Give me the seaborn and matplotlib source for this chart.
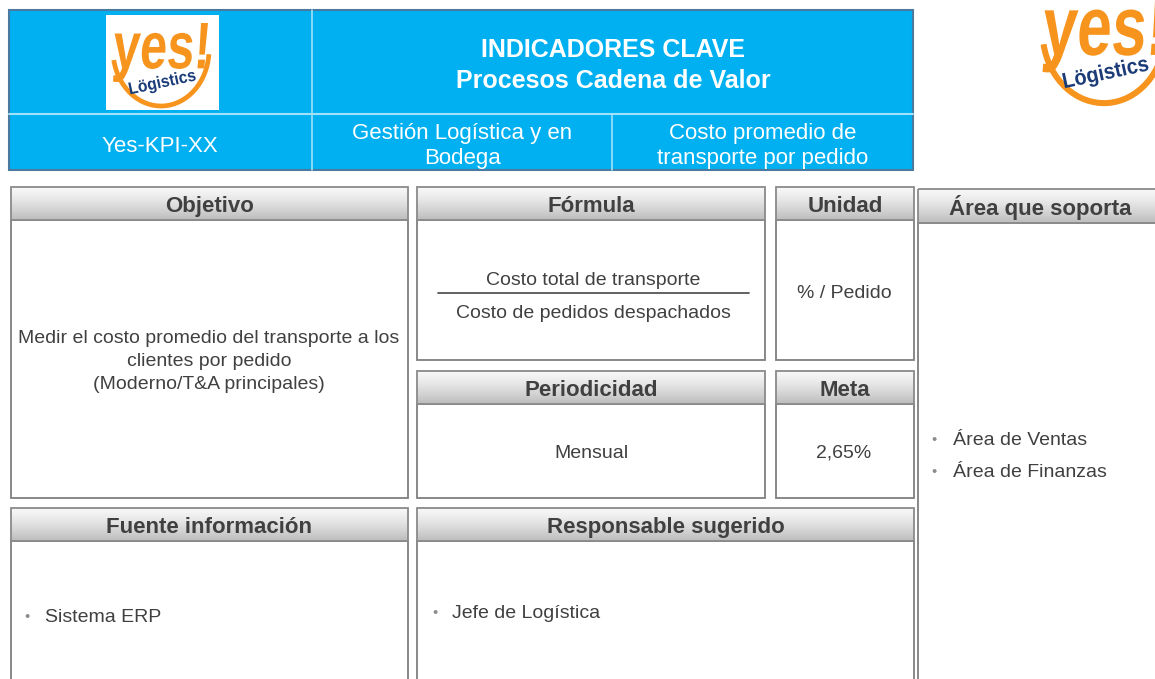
import numpy as np
import matplotlib
matplotlib.use("Agg")
import matplotlib.pyplot as plt
import seaborn as sns
from matplotlib.patches import Rectangle, Arc, PathPatch
from matplotlib.textpath import TextPath
from matplotlib.font_manager import FontProperties
from matplotlib.transforms import Affine2D

sns.set_theme(style="white")
plt.rcParams['font.family'] = ['Liberation Sans', 'DejaVu Sans']

# texts of the card
title_lines = ["INDICADORES CLAVE", "Procesos Cadena de Valor"]
kpi_code = "Yes-KPI-XX"
proceso_lines = ["Gestión Logística y en", "Bodega"]
indicador_lines = ["Costo promedio de", "transporte por pedido"]
objetivo_lines = ["Medir el costo promedio del transporte a los",
                  "clientes por pedido", "(Moderno/T&A principales)"]
formula_num = "Costo total de transporte"
formula_den = "Costo de pedidos despachados"
unidad = "% / Pedido"
periodicidad = "Mensual"
meta = "2,65%"
fuentes = ["Sistema ERP"]
responsables = ["Jefe de Logística"]
areas = ["Área de Ventas", "Área de Finanzas"]
headers = ["Objetivo", "Fórmula", "Unidad", "Área que soporta",
           "Periodicidad", "Meta", "Fuente información", "Responsable sugerido"]

BLUE = "#00b0f0"
TXT = "#404040"
ORANGE = "#f7941d"
NAVY = "#1b3c78"

fig = plt.figure(figsize=(11.55, 6.79), dpi=100)
ax = fig.add_axes([0, 0, 1, 1])
ax.set_axis_off()


def word(s, x0, x1, y0, y1, color, skew=0, rot=0):
    tp = TextPath((0, 0), s, size=1,
                  prop=FontProperties(family='Liberation Sans', weight='bold'))
    path = Affine2D().skew_deg(skew, 0).transform_path(tp)
    ext = path.get_extents()
    tr = (Affine2D().translate(-ext.x0, -ext.y0)
          .scale((x1 - x0) / ext.width, -(y1 - y0) / ext.height)
          .translate(x0, y1))
    if rot:
        tr = tr.rotate_deg_around((x0 + x1) / 2, (y0 + y1) / 2, rot)
    ax.add_patch(PathPatch(tr.transform_path(path), fc=color, ec='none'))


def logo(cx, cy, s):
    ax.add_patch(Arc((cx, cy - 2 * s), 96 * s, 112 * s, theta1=5, theta2=168,
                     color=ORANGE, lw=3.4 * s))
    word("yes!", cx - 48 * s, cx + 47 * s, cy - 29 * s, cy + 30 * s, ORANGE, skew=6)
    word("Lögistics", cx - 32 * s, cx + 35 * s, cy + 23 * s, cy + 39 * s, NAVY, rot=-12)


# blue top header
ax.add_patch(Rectangle((9, 10), 904, 160, fc=BLUE, ec="#4a7aa0", lw=1.5))
ax.plot([9, 913], [114, 114], color="#9fe2fa", lw=1.5)
ax.plot([312, 312], [10, 170], color="#9fe2fa", lw=1.2)
ax.plot([612, 612], [114, 170], color="#9fe2fa", lw=1.2)
ax.add_patch(Rectangle((106, 15), 113, 95, fc="white", ec="none"))
logo(161, 52, 1.0)
logo(1104, 34, 1.28)

ax.text(613, 57, title_lines[0], color="white", fontsize=18, weight="bold", ha="center", va="baseline")
ax.text(613, 88, title_lines[1], color="white", fontsize=18, weight="bold", ha="center", va="baseline")
ax.text(160, 152, kpi_code, color="white", fontsize=16, ha="center", va="baseline")
for i, line in enumerate(proceso_lines):
    ax.text(462, 139 + 25 * i, line, color="white", fontsize=16, ha="center", va="baseline")
for i, line in enumerate(indicador_lines):
    ax.text(763, 139 + 25 * i, line, color="white", fontsize=16, ha="center", va="baseline")

# boxes: x0, x1, header top, header bottom, body bottom
boxes = [(11, 408, 187, 220, 498), (417, 765, 187, 220, 360), (776, 914, 187, 220, 360),
         (918, 1175, 189, 223, 700), (417, 765, 371, 404, 498), (776, 914, 371, 404, 498),
         (11, 408, 508, 541, 700), (417, 914, 508, 541, 700)]
grad = np.linspace(0, 1, 40)[:, None, None] ** 1.3
top = np.array([0.97, 0.97, 0.97])
bot = np.array([0.74, 0.74, 0.74])
img = top * (1 - grad) + bot * grad
for (x0, x1, h0, h1, b1), name in zip(boxes, headers):
    ax.add_patch(Rectangle((x0, h1), x1 - x0, b1 - h1, fc="white", ec="#7f7f7f", lw=1.3))
    ax.imshow(img, extent=(x0, x1, h1, h0), origin="upper", aspect="auto", zorder=2)
    ax.add_patch(Rectangle((x0, h0), x1 - x0, h1 - h0, fc="none", ec="#8a8a8a", lw=1.3, zorder=3))
    ax.text((x0 + min(x1, 1163)) / 2, (h0 + h1) / 2 + 8.5, name, color=TXT, fontsize=16,
            weight="bold", ha="center", va="baseline", zorder=4)

# body texts
for i, line in enumerate(objetivo_lines):
    ax.text(209, 343 + 23 * i, line, color=TXT, fontsize=14, ha="center", va="baseline")
ax.text(593, 285, formula_num, color=TXT, fontsize=14, ha="center", va="baseline")
ax.plot([438, 749], [293, 293], color="#555555", lw=1.3)
ax.text(593, 318, formula_den, color=TXT, fontsize=14, ha="center", va="baseline")
ax.text(844, 298, unidad, color=TXT, fontsize=14, ha="center", va="baseline")
ax.text(591, 458, periodicidad, color=TXT, fontsize=14, ha="center", va="baseline")
ax.text(844, 458, meta, color=TXT, fontsize=14, ha="center", va="baseline")


def bullets(items, xb, xt, y0, step):
    for i, item in enumerate(items):
        y = y0 + step * i
        ax.text(xb, y - 1, "•", color="#8c8c8c", fontsize=10.5, ha="center", va="baseline")
        ax.text(xt, y, item, color=TXT, fontsize=14, ha="left", va="baseline")


bullets(areas, 934, 953, 445, 32)
bullets(fuentes, 27, 45, 622, 30)
bullets(responsables, 435, 452, 618, 30)

ax.set_xlim(0, 1155)
ax.set_ylim(679, 0)
fig.savefig("out.png", dpi=100)
